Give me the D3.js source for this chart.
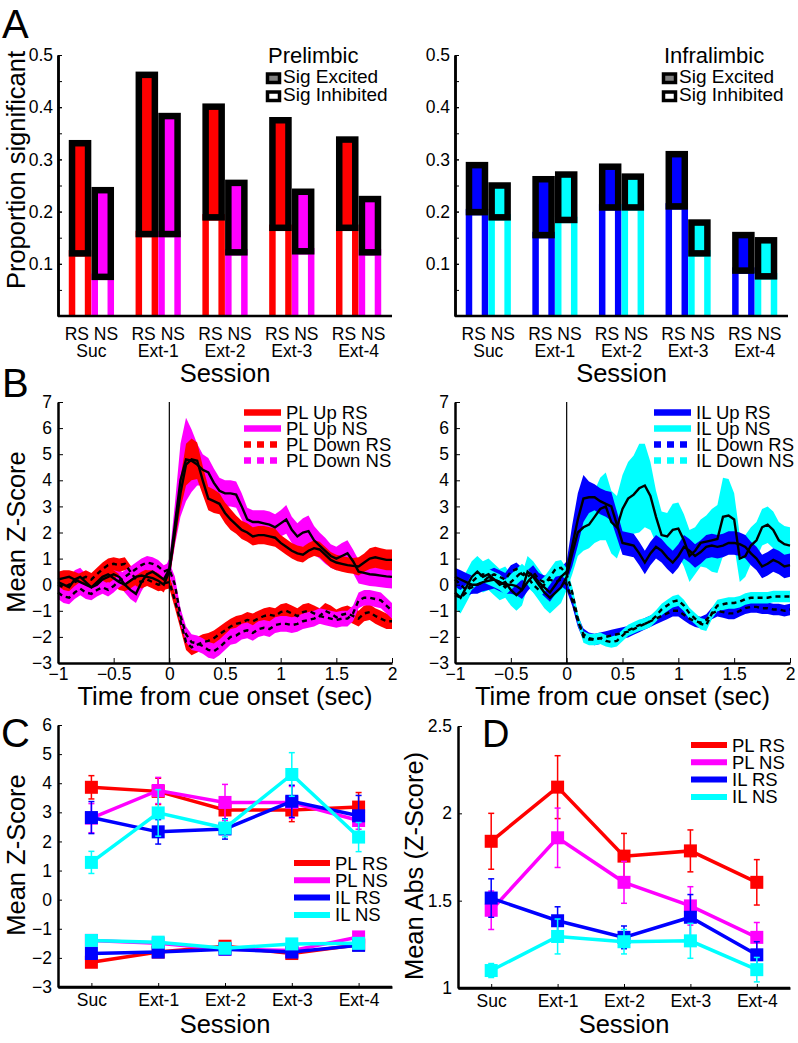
<!DOCTYPE html>
<html><head><meta charset="utf-8">
<script src="https://cdn.jsdelivr.net/npm/d3@7"></script>
<style>
body{margin:0;background:#fff}
svg text{font-family:"Liberation Sans",Arial,Helvetica,sans-serif;fill:#000}
</style></head><body>
<svg id="fig" width="798" height="1043"></svg>
<script>
// ---------------- DATA ----------------
const sessions = ["Suc","Ext-1","Ext-2","Ext-3","Ext-4"];
const cellTypeLabel = "RS NS";

// Panel A: proportion significant (inhibited part, excited part stacked on top)
const plInhRS = [0.120,0.157,0.189,0.169,0.169];
const plExcRS = [0.211,0.305,0.212,0.206,0.169];
const plInhNS = [0.075,0.157,0.122,0.124,0.122];
const plExcNS = [0.166,0.226,0.133,0.114,0.102];
const ilInhRS = [0.199,0.155,0.208,0.210,0.087];
const ilExcRS = [0.090,0.107,0.078,0.100,0.068];
const ilInhNS = [0.189,0.184,0.208,0.120,0.076];
const ilExcNS = [0.061,0.087,0.059,0.059,0.069];
const propTicks = [0.1,0.2,0.3,0.4,0.5];

// Panel B: mean z-score time courses
const timeBins = [-1,-0.95,-0.9,-0.85,-0.8,-0.75,-0.7,-0.65,-0.6,-0.55,
 -0.5,-0.45,-0.4,-0.35,-0.3,-0.25,-0.2,-0.15,-0.1,-0.05,
 0,0.05,0.1,0.15,0.2,0.25,0.3,0.35,0.4,0.45,
 0.5,0.55,0.6,0.65,0.7,0.75,0.8,0.85,0.9,0.95,
 1,1.05,1.1,1.15,1.2,1.25,1.3,1.35,1.4,1.45,
 1.5,1.55,1.6,1.65,1.7,1.75,1.8,1.85,1.9,1.95,2];

const plUpRS = [0.2,0.25,0.3,0.2,0.1,0.0,-0.1,0.1,0.3,0.4,
 0.25,0.1,0.0,0.15,0.3,0.35,0.3,0.25,0.15,0.0,
 0.5,2.0,3.5,4.6,4.8,4.75,4.0,3.3,3.2,3.1,
 2.75,2.5,2.3,2.1,2.0,1.85,1.9,1.9,1.85,1.8,
 1.6,1.45,1.3,1.2,1.15,1.3,1.4,1.35,1.15,0.95,
 0.85,0.8,0.75,0.72,0.7,0.85,1.0,1.05,1.0,0.95,0.95];
const semPLUpRS = [0.3,0.3,0.25,0.3,0.3,0.3,0.25,0.3,0.3,0.3,
 0.3,0.3,0.25,0.3,0.3,0.3,0.25,0.3,0.3,0.3,
 0.3,0.4,0.6,0.8,0.8,0.7,0.55,0.45,0.45,0.4,
 0.4,0.4,0.35,0.35,0.35,0.35,0.35,0.35,0.35,0.35,
 0.3,0.3,0.3,0.3,0.3,0.3,0.3,0.3,0.3,0.3,
 0.3,0.3,0.3,0.3,0.35,0.35,0.4,0.4,0.4,0.4,0.4];
const plUpNS = [0.1,0.0,-0.1,0.2,0.3,0.1,-0.1,0.0,0.2,0.3,
 0.4,0.3,0.0,-0.2,-0.35,0.1,0.4,0.5,0.35,0.2,
 0.6,2.3,4.0,4.8,4.75,4.6,4.4,4.3,3.9,3.6,
 3.5,3.5,3.45,3.0,2.5,2.4,2.4,2.35,2.3,2.2,
 2.35,2.5,2.1,1.85,2.0,2.05,1.7,1.5,1.3,1.1,
 1.0,1.1,1.2,0.9,0.5,0.45,0.4,0.38,0.35,0.32,0.3];
const semPLUpNS = [0.35,0.35,0.3,0.35,0.35,0.3,0.35,0.35,0.35,0.3,
 0.35,0.35,0.3,0.35,0.35,0.35,0.3,0.35,0.35,0.35,
 0.4,0.8,1.4,1.6,1.2,0.8,0.6,0.55,0.55,0.5,
 0.5,0.5,0.5,0.5,0.45,0.45,0.45,0.5,0.5,0.5,
 0.5,0.55,0.5,0.5,0.55,0.6,0.55,0.5,0.5,0.45,
 0.45,0.5,0.5,0.45,0.45,0.45,0.45,0.45,0.45,0.45,0.45];
const plDownRS = [0.0,-0.1,0.0,0.1,0.2,0.3,0.2,0.4,0.6,0.75,
 0.8,0.75,0.8,0.5,0.2,0.1,0.2,0.1,0.0,0.05,
 0.1,-0.6,-1.4,-2.2,-2.4,-2.3,-2.2,-2.15,-2.05,-1.9,
 -1.75,-1.6,-1.5,-1.45,-1.35,-1.4,-1.3,-1.2,-1.15,-1.2,
 -1.05,-1.0,-1.1,-1.2,-1.05,-1.0,-1.1,-1.2,-1.0,-1.1,
 -1.25,-1.15,-1.1,-1.2,-1.3,-1.1,-1.05,-1.2,-1.3,-1.4,-1.4];
const semPLDownRS = [0.25,0.25,0.25,0.25,0.25,0.25,0.25,0.25,0.25,0.25,
 0.25,0.25,0.25,0.25,0.25,0.25,0.25,0.25,0.25,0.25,
 0.25,0.3,0.3,0.3,0.3,0.3,0.3,0.3,0.3,0.3,
 0.3,0.3,0.3,0.3,0.3,0.3,0.3,0.3,0.3,0.3,
 0.3,0.3,0.3,0.3,0.3,0.3,0.3,0.3,0.3,0.3,
 0.3,0.3,0.3,0.3,0.3,0.3,0.3,0.3,0.3,0.3,0.3];
const plDownNS = [-0.3,-0.45,-0.5,-0.3,-0.15,-0.3,-0.35,-0.2,-0.1,-0.2,
 -0.05,0.15,0.3,0.45,0.6,0.75,0.85,0.8,0.7,0.5,
 0.6,0.0,-1.2,-1.9,-2.2,-2.25,-2.35,-2.5,-2.55,-2.4,
 -2.2,-2.0,-1.95,-1.8,-1.75,-1.85,-1.7,-1.65,-1.7,-1.55,
 -1.5,-1.5,-1.55,-1.5,-1.4,-1.35,-1.3,-1.2,-1.25,-1.3,
 -1.35,-1.3,-1.3,-1.1,-0.6,-0.5,-0.5,-0.55,-0.6,-0.8,-1.0];
const semPLDownNS = [0.25,0.25,0.25,0.25,0.25,0.25,0.25,0.25,0.25,0.25,
 0.25,0.25,0.25,0.25,0.25,0.25,0.25,0.25,0.25,0.25,
 0.25,0.3,0.3,0.3,0.3,0.3,0.3,0.3,0.3,0.3,
 0.3,0.3,0.3,0.3,0.3,0.3,0.3,0.3,0.3,0.3,
 0.3,0.3,0.3,0.3,0.3,0.3,0.3,0.3,0.3,0.3,
 0.3,0.3,0.3,0.3,0.3,0.3,0.3,0.3,0.3,0.3,0.3];

const ilUpRS = [0.3,0.2,0.1,0.0,0.0,0.1,0.15,0.2,0.1,0.0,
 0.0,-0.05,-0.2,0.1,0.35,0.1,-0.1,-0.3,0.0,0.3,
 0.5,1.5,2.5,3.3,3.35,3.35,3.2,3.1,3.0,2.3,
 1.6,1.55,1.5,1.2,0.85,1.2,1.45,1.3,1.05,0.85,
 1.1,1.45,1.3,1.1,1.25,1.45,1.5,1.45,1.5,1.6,
 1.6,1.55,1.45,1.2,1.0,0.7,0.8,0.95,0.85,0.7,0.75];
const semILUpRS = [0.35,0.35,0.35,0.35,0.35,0.35,0.35,0.35,0.35,0.35,
 0.35,0.35,0.35,0.35,0.35,0.35,0.35,0.35,0.35,0.35,
 0.4,0.8,1.0,0.9,0.6,0.5,0.5,0.5,0.55,0.5,
 0.45,0.45,0.45,0.45,0.45,0.45,0.45,0.45,0.45,0.45,
 0.45,0.45,0.45,0.45,0.45,0.45,0.45,0.45,0.45,0.45,
 0.45,0.45,0.45,0.45,0.45,0.45,0.45,0.45,0.45,0.45,0.45];
const ilUpNS = [-0.3,-0.5,-0.1,0.3,0.5,0.3,0.4,0.2,0.0,0.1,
 -0.2,-0.4,-0.2,0.5,0.3,0.0,-0.3,-0.5,-0.3,-0.1,
 0.3,1.2,2.0,2.2,2.3,2.6,2.9,3.0,2.4,2.2,
 2.9,3.3,3.45,3.7,3.8,3.4,2.6,1.9,1.85,2.1,
 2.15,1.7,1.1,1.3,1.6,1.65,1.7,1.75,2.6,2.65,
 2.5,1.0,1.1,1.5,1.7,2.2,2.3,2.1,1.7,1.55,1.5];
const semILUpNS = [0.6,0.6,0.6,0.6,0.6,0.6,0.6,0.6,0.6,0.6,
 0.6,0.6,0.6,0.6,0.6,0.6,0.6,0.6,0.6,0.6,
 0.5,0.8,0.9,0.9,0.9,1.0,1.2,1.3,1.2,1.2,
 1.3,1.4,1.5,1.7,1.6,1.3,1.0,0.9,0.9,1.0,
 1.0,1.0,1.0,0.9,0.9,1.0,1.2,1.3,1.5,1.4,
 1.0,0.9,0.8,0.7,0.7,0.7,0.7,0.7,0.7,0.7,0.7];
const ilDownRS = [0.2,0.0,-0.2,-0.1,0.0,0.1,0.3,0.4,0.3,0.2,
 0.5,0.6,0.4,0.3,0.5,0.2,0.1,0.2,0.1,0.2,
 0.0,-0.6,-1.4,-1.9,-2.05,-2.1,-2.05,-2.0,-1.95,-1.9,
 -1.85,-1.8,-1.7,-1.6,-1.5,-1.4,-1.3,-1.2,-1.1,-1.0,
 -1.0,-1.15,-1.3,-1.4,-1.45,-1.35,-1.1,-1.0,-1.05,-1.1,
 -1.1,-1.0,-0.9,-0.85,-0.85,-0.9,-0.9,-0.95,-0.95,-1.0,-0.95];
const semILDownRS = [0.25,0.25,0.25,0.25,0.25,0.25,0.25,0.25,0.25,0.25,
 0.25,0.25,0.25,0.25,0.25,0.25,0.25,0.25,0.25,0.25,
 0.22,0.22,0.22,0.22,0.22,0.22,0.22,0.22,0.22,0.22,
 0.22,0.22,0.22,0.22,0.22,0.22,0.22,0.22,0.22,0.22,
 0.22,0.22,0.22,0.22,0.22,0.22,0.22,0.22,0.22,0.22,
 0.22,0.22,0.22,0.22,0.22,0.22,0.22,0.22,0.22,0.22,0.22];
const ilDownNS = [-0.4,-0.5,-0.3,0.1,0.3,0.4,0.3,0.2,0.1,-0.1,
 0.1,0.3,0.5,0.3,0.0,-0.2,0.0,0.3,0.6,0.65,
 0.4,-0.3,-1.3,-2.0,-2.1,-2.1,-2.05,-2.15,-2.2,-2.15,
 -1.95,-1.75,-1.65,-1.55,-1.5,-1.4,-1.2,-0.95,-0.8,-0.65,
 -0.6,-0.8,-1.1,-1.3,-1.5,-1.55,-1.1,-0.8,-0.75,-0.7,
 -0.7,-0.65,-0.55,-0.5,-0.5,-0.5,-0.5,-0.45,-0.45,-0.45,-0.45];
const semILDownNS = [0.3,0.3,0.3,0.3,0.3,0.3,0.3,0.3,0.3,0.3,
 0.3,0.3,0.3,0.3,0.3,0.3,0.3,0.3,0.3,0.3,
 0.22,0.22,0.22,0.22,0.22,0.22,0.22,0.22,0.22,0.22,
 0.22,0.22,0.22,0.22,0.22,0.22,0.22,0.22,0.22,0.22,
 0.22,0.22,0.22,0.22,0.22,0.22,0.22,0.22,0.22,0.22,
 0.22,0.22,0.22,0.22,0.22,0.22,0.22,0.22,0.22,0.22,0.22];
const timeTicks = [-1,-0.5,0,0.5,1,1.5,2];
const zTicksB = [-3,-2,-1,0,1,2,3,4,5,6,7];

// Panel C: mean z-score per session (excited / inhibited)
const cUpPLRS = [3.86,3.72,3.08,3.08,3.18], cUpPLRSerr = [0.4,0.45,0.35,0.4,0.5];
const cUpPLNS = [2.80,3.75,3.34,3.34,2.72], cUpPLNSerr = [0.5,0.45,0.62,0.55,0.3];
const cUpILRS = [2.82,2.33,2.43,3.38,2.88], cUpILRSerr = [0.55,0.42,0.35,0.55,0.7];
const cUpILNS = [1.28,2.98,2.46,4.30,2.15], cUpILNSerr = [0.38,0.8,0.3,0.75,0.5];
const cDnPLRS = [-2.15,-1.80,-1.60,-1.85,-1.55], cDnPLRSerr = [0.12,0.1,0.12,0.12,0.12];
const cDnPLNS = [-1.40,-1.50,-1.70,-1.75,-1.28], cDnPLNSerr = [0.1,0.1,0.1,0.1,0.1];
const cDnILRS = [-1.85,-1.80,-1.70,-1.80,-1.57], cDnILRSerr = [0.12,0.1,0.12,0.1,0.12];
const cDnILNS = [-1.40,-1.46,-1.67,-1.52,-1.50], cDnILNSerr = [0.1,0.1,0.1,0.1,0.1];
const zTicksC = [-3,-2,-1,0,1,2,3,4,5,6];

// Panel D: mean abs z-score
const dPLRS = [1.84,2.15,1.755,1.785,1.605], dPLRSerr = [0.16,0.18,0.13,0.12,0.13];
const dPLNS = [1.445,1.86,1.605,1.47,1.29], dPLNSerr = [0.11,0.17,0.12,0.11,0.085];
const dILRS = [1.515,1.385,1.29,1.405,1.19], dILRSerr = [0.11,0.08,0.065,0.13,0.075];
const dILNS = [1.10,1.295,1.265,1.27,1.105], dILNSerr = [0.04,0.1,0.07,0.1,0.07];
const absTicks = [1,1.5,2,2.5];

// ---------------- DRAW ----------------
const RED="#ff0000", MAG="#ff00ff", BLUE="#0000ff", CYAN="#00ffff";
const svg = d3.select("#fig");
const fmt = v => String(v).replace("-", "\u2212");
const TICK = 17.5, TITLE = 25.5, LEG = 18.5;

function txt(g, x, y, s, size, anchor, rot) {
  const t = g.append("text").attr("x", x).attr("y", y).text(s)
    .attr("font-size", size).attr("text-anchor", anchor || "start");
  if (rot) t.attr("transform", `rotate(${rot},${x},${y})`);
  return t;
}
function styleAxis(g) {
  g.select(".domain").attr("stroke", "#000").attr("stroke-width", 2.5);
  g.selectAll(".tick line").attr("stroke", "#000").attr("stroke-width", 1);
  g.selectAll(".tick text").attr("font-size", TICK).attr("fill", "#000")
    .attr("font-family", '"Liberation Sans",Arial,sans-serif');
}

// ----- Panel A -----
function barPanel(x0, x1, idx, inhRS, excRS, inhNS, excNS, cRS, cNS, title, legX) {
  const g = svg.append("g");
  const xs = d3.scaleLinear().domain([0.5, 5.5]).range([x0, x1]);
  const ys = d3.scaleLinear().domain([0, 0.5]).range([316, 55]);
  const cid = "clipA" + idx;
  svg.append("clipPath").attr("id", cid).append("rect")
    .attr("x", x0).attr("y", 0).attr("width", x1 - x0 + 10).attr("height", 316);
  const bars = g.append("g").attr("clip-path", `url(#${cid})`);
  const hw = xs(0.12) - xs(0);
  sessions.forEach((s, i) => {
    [[inhRS[i], excRS[i], cRS, -0.17], [inhNS[i], excNS[i], cNS, 0.17]].forEach(([inh, exc, col, off]) => {
      const cx = xs(i + 1 + off);
      bars.append("rect").attr("x", cx - hw).attr("width", 2 * hw)
        .attr("y", ys(inh)).attr("height", ys(0) - ys(inh) + 10)
        .attr("fill", "#fff").attr("stroke", col).attr("stroke-width", 6.5);
      bars.append("rect").attr("x", cx - hw).attr("width", 2 * hw)
        .attr("y", ys(inh + exc)).attr("height", ys(inh) - ys(inh + exc))
        .attr("fill", col).attr("stroke", "#000").attr("stroke-width", 6.5);
    });
    txt(g, xs(i + 1), 340, cellTypeLabel, TICK, "middle").style("white-space", "pre");
    txt(g, xs(i + 1), 357, s, TICK, "middle");
  });
  const minor = d3.range(0, 0.5001, 0.05).map(v => +v.toFixed(2));
  const am = g.append("g").attr("transform", `translate(${x0},0)`)
    .call(d3.axisLeft(ys).tickValues(minor).tickSizeInner(-4).tickSizeOuter(0).tickFormat(""));
  styleAxis(am);
  const al = g.append("g").attr("transform", `translate(${x0},0)`)
    .call(d3.axisLeft(ys).tickValues(propTicks).tickSizeInner(-4).tickSizeOuter(0).tickPadding(5).tickFormat(d => d.toFixed(1)));
  styleAxis(al);
  g.append("line").attr("x1", x0).attr("x2", x1).attr("y1", 316).attr("y2", 316)
    .attr("stroke", "#000").attr("stroke-width", 2.5);
  txt(g, (x0 + x1) / 2, 382, "Session", TITLE, "middle");
  // legend
  txt(g, legX + 2, 63, title, 22, "start");
  [["Sig Excited", "#808080", 72.5], ["Sig Inhibited", "#fff", 90.5]].forEach(([lab, f, y]) => {
    g.append("rect").attr("x", legX + 1.5).attr("y", y + 1.5).attr("width", 12).attr("height", 8.5)
      .attr("fill", f).attr("stroke", "#000").attr("stroke-width", 3.5);
    txt(g, legX + 17, y + 10.5, lab, 19, "start");
  });
}
barPanel(58, 392, 0, plInhRS, plExcRS, plInhNS, plExcNS, RED, MAG, "Prelimbic", 266);
barPanel(455, 788, 1, ilInhRS, ilExcRS, ilInhNS, ilExcNS, BLUE, CYAN, "Infralimbic", 662);
txt(svg, 16, 170, "Proportion significant", TITLE, "middle", -90).attr("dy", "0.35em");
txt(svg, 2, 38, "A", 40, "start");

// ----- Panel B -----
function tracePanel(x0, x1, series, legX, names) {
  const g = svg.append("g");
  const xs = d3.scaleLinear().domain([-1, 2]).range([x0, x1]);
  const ys = d3.scaleLinear().domain([-3, 7]).range([663, 402]);
  const area = d3.area().x((d, i) => xs(timeBins[i]))
    .y0(d => ys(d[0] - d[1])).y1(d => ys(d[0] + d[1]));
  const line = d3.line().x((d, i) => xs(timeBins[i])).y(d => ys(d));
  // draw order: Up NS, Up RS, Down RS, Down NS
  [series[1], series[0], series[2], series[3]].forEach(s => {
    g.append("path").datum(s.mean.map((m, i) => [m, s.sem[i]]))
      .attr("d", area).attr("fill", s.col).attr("stroke", "none");
  });
  [series[1], series[0], series[2], series[3]].forEach(s => {
    g.append("path").datum(s.mean).attr("d", line).attr("fill", "none")
      .attr("stroke", "#000").attr("stroke-width", 2.4)
      .attr("stroke-dasharray", s.dash ? "5,4" : null);
  });
  g.append("line").attr("x1", xs(0)).attr("x2", xs(0)).attr("y1", 402).attr("y2", 663)
    .attr("stroke", "#000").attr("stroke-width", 1.2);
  const ay = g.append("g").attr("transform", `translate(${x0},0)`)
    .call(d3.axisLeft(ys).tickValues(zTicksB).tickSizeInner(-5).tickSizeOuter(0).tickPadding(6).tickFormat(fmt));
  styleAxis(ay);
  const ax = g.append("g").attr("transform", `translate(0,663)`)
    .call(d3.axisBottom(xs).tickValues(timeTicks).tickSizeInner(-5).tickSizeOuter(0).tickPadding(6).tickFormat(fmt));
  styleAxis(ax);
  ax.selectAll(".tick text").attr("dy", "0.6em");
  txt(g, (x0 + x1) / 2, 705, "Time from cue onset (sec)", TITLE, "middle");
  // legend
  series.forEach((s, k) => {
    const y = 412.5 + k * 16;
    g.append("line").attr("x1", legX).attr("x2", legX + 37).attr("y1", y).attr("y2", y)
      .attr("stroke", s.col).attr("stroke-width", 6.5)
      .attr("stroke-dasharray", s.dash ? "7,6" : null);
    txt(g, legX + 42, y + 6.5, names[k], LEG, "start");
  });
}
tracePanel(58, 392, [
  {mean: plUpRS, sem: semPLUpRS, col: RED},
  {mean: plUpNS, sem: semPLUpNS, col: MAG},
  {mean: plDownRS, sem: semPLDownRS, col: RED, dash: true},
  {mean: plDownNS, sem: semPLDownNS, col: MAG, dash: true}
], 244, ["PL Up RS", "PL Up NS", "PL Down RS", "PL Down NS"]);
tracePanel(455, 790, [
  {mean: ilUpRS, sem: semILUpRS, col: BLUE},
  {mean: ilUpNS, sem: semILUpNS, col: CYAN},
  {mean: ilDownRS, sem: semILDownRS, col: BLUE, dash: true},
  {mean: ilDownNS, sem: semILDownNS, col: CYAN, dash: true}
], 654, ["IL Up RS", "IL Up NS", "IL Down RS", "IL Down NS"]);
txt(svg, 16, 532, "Mean Z-Score", TITLE, "middle", -90).attr("dy", "0.35em");
txt(svg, 2, 397, "B", 40, "start");

// ----- Panels C & D -----
function sessionPanel(x0, x1, yDom, yRange, ticks, tickFmt, groups, legend, legX, legY) {
  const g = svg.append("g");
  const xs = d3.scaleLinear().domain([0.5, 5.5]).range([x0, x1]);
  const ys = d3.scaleLinear().domain(yDom).range(yRange);
  const line = d3.line().x((d, i) => xs(i + 1)).y(d => ys(d));
  groups.forEach(s => {
    s.vals.forEach((v, i) => {
      const cx = xs(i + 1), e = s.err[i];
      g.append("line").attr("x1", cx).attr("x2", cx).attr("y1", ys(v - e)).attr("y2", ys(v + e))
        .attr("stroke", s.col).attr("stroke-width", 1.5);
      [v - e, v + e].forEach(w => g.append("line").attr("x1", cx - 3).attr("x2", cx + 3)
        .attr("y1", ys(w)).attr("y2", ys(w)).attr("stroke", s.col).attr("stroke-width", 1.5));
    });
    g.append("path").datum(s.vals).attr("d", line).attr("fill", "none")
      .attr("stroke", s.col).attr("stroke-width", 3.5);
    g.selectAll(null).data(s.vals).enter().append("rect")
      .attr("x", (d, i) => xs(i + 1) - 6.5).attr("y", d => ys(d) - 6.5)
      .attr("width", 13).attr("height", 13).attr("fill", s.col);
  });
  const ay = g.append("g").attr("transform", `translate(${x0},0)`)
    .call(d3.axisLeft(ys).tickValues(ticks).tickSizeInner(-4).tickSizeOuter(0).tickPadding(6).tickFormat(tickFmt));
  styleAxis(ay);
  const ax = g.append("g").attr("transform", `translate(0,${yRange[0]})`)
    .call(d3.axisBottom(xs).tickValues([1, 2, 3, 4, 5]).tickSizeInner(-4).tickSizeOuter(0).tickPadding(8)
      .tickFormat(d => sessions[d - 1]));
  styleAxis(ax);
  ax.selectAll(".tick text").attr("dy", "0.6em");
  g.append("line").attr("x1", x0).attr("x2", x1).attr("y1", yRange[0]).attr("y2", yRange[0])
    .attr("stroke", "#000").attr("stroke-width", 2.5);
  txt(g, (x0 + x1) / 2, 1033, "Session", TITLE, "middle");
  legend.forEach(([lab, col], k) => {
    const y = legY + k * 17.3;
    g.append("line").attr("x1", legX).attr("x2", legX + 36).attr("y1", y).attr("y2", y)
      .attr("stroke", col).attr("stroke-width", 6);
    txt(g, legX + 41, y + 6.5, lab, LEG, "start");
  });
}
const legC = [["PL RS", RED], ["PL NS", MAG], ["IL RS", BLUE], ["IL NS", CYAN]];
sessionPanel(58, 392, [-3, 6], [987, 725], zTicksC, fmt, [
  {vals: cUpPLRS, err: cUpPLRSerr, col: RED},
  {vals: cUpPLNS, err: cUpPLNSerr, col: MAG},
  {vals: cUpILRS, err: cUpILRSerr, col: BLUE},
  {vals: cUpILNS, err: cUpILNSerr, col: CYAN},
  {vals: cDnPLRS, err: cDnPLRSerr, col: RED},
  {vals: cDnPLNS, err: cDnPLNSerr, col: MAG},
  {vals: cDnILRS, err: cDnILRSerr, col: BLUE},
  {vals: cDnILNS, err: cDnILNSerr, col: CYAN}
], legC, 294, 863);
sessionPanel(458, 790, [1, 2.5], [988, 726], absTicks, d => String(d), [
  {vals: dPLRS, err: dPLRSerr, col: RED},
  {vals: dPLNS, err: dPLNSerr, col: MAG},
  {vals: dILRS, err: dILRSerr, col: BLUE},
  {vals: dILNS, err: dILNSerr, col: CYAN}
], legC, 691, 745);
txt(svg, 16, 855, "Mean Z-Score", TITLE, "middle", -90).attr("dy", "0.35em");
txt(svg, 414, 866, "Mean Abs (Z-Score)", TITLE, "middle", -90).attr("dy", "0.35em");
txt(svg, 1, 747, "C", 40, "start");
txt(svg, 482, 747, "D", 38, "start");
</script>
</body></html>
